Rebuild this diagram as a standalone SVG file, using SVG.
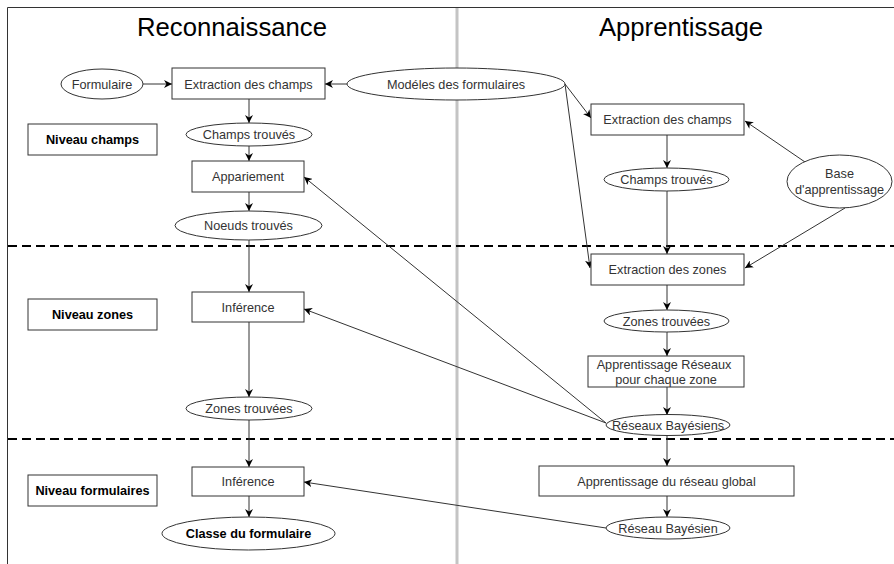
<svg xmlns="http://www.w3.org/2000/svg" width="894" height="564" viewBox="0 0 894 564">
<style>
.n rect,.n ellipse{fill:#fff;stroke:#333;stroke-width:1}
.t{font-family:"Liberation Sans",Arial,sans-serif;font-size:12.7px;fill:#333;text-anchor:middle}
.b{font-weight:bold;fill:#000}
.h{font-family:"Liberation Sans",Arial,sans-serif;font-size:25.7px;fill:#000;text-anchor:middle}
.c line{stroke:#333;stroke-width:1;marker-end:url(#a)}
.d{stroke:#000;stroke-width:2;stroke-dasharray:9,5}
</style>
<defs>
<marker id="a" viewBox="0 0 10 10" refX="10" refY="5" markerWidth="8" markerHeight="8" markerUnits="userSpaceOnUse" orient="auto">
<path d="M0,0 L10,5 L0,10 L3,5 z" fill="#000"/>
</marker>
</defs>
<rect x="0" y="0" width="894" height="564" fill="#fff"/>
<path d="M7.5,564 V7.5 H894" fill="none" stroke="#333" stroke-width="1"/>
<line x1="457" y1="8" x2="457" y2="564" stroke="#c4c4c4" stroke-width="3"/>
<line class="d" x1="8" y1="246" x2="894" y2="246"/>
<line class="d" x1="8" y1="439" x2="894" y2="439"/>
<text class="h" x="232" y="36">Reconnaissance</text>
<text class="h" x="681" y="36">Apprentissage</text>

<g class="c">
<line x1="143" y1="84" x2="172" y2="84"/>
<line x1="347" y1="84" x2="325" y2="84"/>
<line x1="249" y1="99" x2="249" y2="123"/>
<line x1="249" y1="146" x2="249" y2="161"/>
<line x1="249" y1="192" x2="249" y2="211"/>
<line x1="249" y1="240" x2="249" y2="292"/>
<line x1="249" y1="322" x2="249" y2="397"/>
<line x1="249" y1="420" x2="249" y2="467"/>
<line x1="249" y1="496" x2="249" y2="517"/>
<line x1="565" y1="84" x2="591" y2="118"/>
<line x1="565" y1="84" x2="590" y2="268"/>
<line x1="805" y1="162" x2="745" y2="121"/>
<line x1="845" y1="208" x2="745" y2="268"/>
<line x1="667" y1="135" x2="667" y2="168"/>
<line x1="667" y1="191" x2="667" y2="254"/>
<line x1="667" y1="285" x2="667" y2="310"/>
<line x1="667" y1="332" x2="667" y2="356"/>
<line x1="667" y1="387" x2="667" y2="415"/>
<line x1="667" y1="435" x2="667" y2="466"/>
<line x1="667" y1="496" x2="667" y2="517"/>
<line x1="606" y1="423" x2="304" y2="177"/>
<line x1="606" y1="423" x2="304" y2="309"/>
<line x1="606" y1="528" x2="304" y2="482"/>
</g>

<g id="formulaire" class="n"><ellipse cx="102" cy="84" rx="41" ry="15"/><text class="t" x="102" y="88.5">Formulaire</text></g>
<g id="extraction-champs-r" class="n"><rect x="172" y="68" width="153" height="31"/><text class="t" x="248.5" y="88.5">Extraction des champs</text></g>
<g id="modeles" class="n"><ellipse cx="456" cy="84" rx="109" ry="16"/><text class="t" x="456" y="88.5">Modéles des formulaires</text></g>
<g id="champs-trouves-r" class="n"><ellipse cx="249" cy="134.5" rx="63" ry="11.5"/><text class="t" x="249" y="139">Champs trouvés</text></g>
<g id="niveau-champs" class="n"><rect x="28" y="124" width="129" height="31"/><text class="t b" x="92.5" y="144">Niveau champs</text></g>
<g id="appariement" class="n"><rect x="192" y="161" width="112" height="31"/><text class="t" x="248" y="181">Appariement</text></g>
<g id="noeuds-trouves" class="n"><ellipse cx="248.5" cy="225.5" rx="73.5" ry="14.5"/><text class="t" x="248.5" y="230">Noeuds trouvés</text></g>
<g id="inference-zones" class="n"><rect x="192" y="292" width="112" height="30"/><text class="t" x="248" y="312">Inférence</text></g>
<g id="niveau-zones" class="n"><rect x="28" y="299" width="129" height="31"/><text class="t b" x="92.5" y="319">Niveau zones</text></g>
<g id="zones-trouvees-r" class="n"><ellipse cx="249" cy="408.5" rx="63" ry="11.5"/><text class="t" x="249" y="413">Zones trouvées</text></g>
<g id="inference-form" class="n"><rect x="192" y="467" width="112" height="29"/><text class="t" x="248" y="486">Inférence</text></g>
<g id="niveau-form" class="n"><rect x="28" y="475" width="129" height="31"/><text class="t b" x="92.5" y="495">Niveau formulaires</text></g>
<g id="classe" class="n"><ellipse cx="248.5" cy="533.5" rx="86.5" ry="16.5"/><text class="t b" x="248.5" y="538">Classe du formulaire</text></g>

<g id="extraction-champs-a" class="n"><rect x="591" y="104" width="153" height="31"/><text class="t" x="667.5" y="124">Extraction des champs</text></g>
<g id="champs-trouves-a" class="n"><ellipse cx="666.5" cy="179.5" rx="62.5" ry="11.5"/><text class="t" x="666.5" y="184">Champs trouvés</text></g>
<g id="base" class="n"><ellipse cx="839.5" cy="181.5" rx="52.5" ry="26.5"/><text class="t" x="839.5" y="178">Base</text><text class="t" x="839.5" y="194">d'apprentissage</text></g>
<g id="extraction-zones" class="n"><rect x="591" y="254" width="153" height="31"/><text class="t" x="667.5" y="274">Extraction des zones</text></g>
<g id="zones-trouvees-a" class="n"><ellipse cx="666.5" cy="321" rx="62.5" ry="11"/><text class="t" x="666.5" y="325.5">Zones trouvées</text></g>
<g id="apprentissage-reseaux" class="n"><rect x="588" y="356" width="156" height="31"/><text class="t" x="664" y="369">Apprentissage Réseaux</text><text class="t" x="666" y="384">pour chaque zone</text></g>
<g id="reseaux-bayesiens" class="n"><ellipse cx="668" cy="425" rx="62" ry="10.5"/><text class="t" x="668" y="429.5">Réseaux Bayésiens</text></g>
<g id="apprentissage-global" class="n"><rect x="539" y="466" width="255" height="30"/><text class="t" x="666.5" y="485.5">Apprentissage du réseau global</text></g>
<g id="reseau-bayesien" class="n"><ellipse cx="668" cy="528" rx="62" ry="11"/><text class="t" x="668" y="532.5">Réseau Bayésien</text></g>
</svg>
